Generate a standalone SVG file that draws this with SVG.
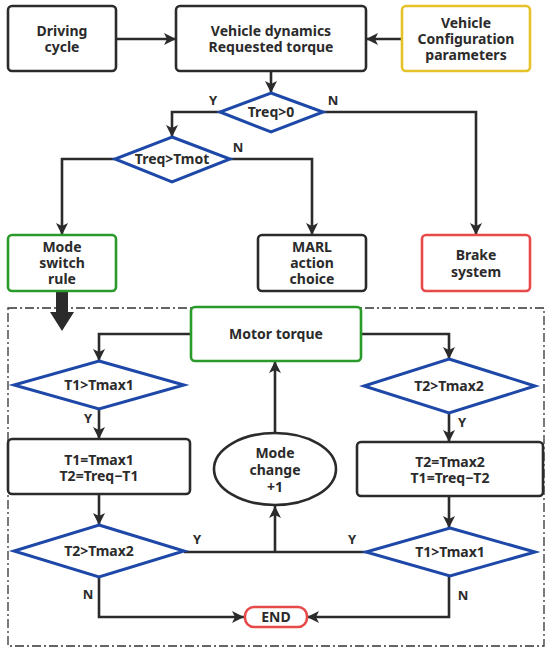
<svg xmlns="http://www.w3.org/2000/svg" width="550" height="654" viewBox="0 0 550 654">
<style>
text{font-family:"Noto Sans","Open Sans","Liberation Sans",sans-serif;font-weight:bold;font-size:14px;fill:#2b2b2b;text-anchor:middle}
.box{fill:#fff;stroke:#2b2b2b;stroke-width:2.6}
.grn{fill:#fff;stroke:#2a9a2a;stroke-width:2.6}
.red{fill:#fff;stroke:#e84a4a;stroke-width:2.6}
.yel{fill:#fff;stroke:#e6c22a;stroke-width:2.6}
.dia{fill:#fff;stroke:#1e48a8;stroke-width:3}
.ln{fill:none;stroke:#2b2b2b;stroke-width:2.6}
.lbl{font-size:13px}
</style>
<defs>
<marker id="ah" markerWidth="12" markerHeight="12" viewBox="0 0 12 12" refX="12" refY="6" orient="auto" markerUnits="userSpaceOnUse">
<path d="M0,0 L12,6 L0,12 L3,6 z" fill="#2b2b2b"/>
</marker>
</defs>
<rect x="0" y="0" width="550" height="654" fill="#fff"/>
<rect x="8" y="308" width="536" height="338" fill="none" stroke="#333" stroke-width="1.3" stroke-dasharray="9 3 2 3"/>
<g id="connectors">
<path class="ln" d="M116,39 H176" marker-end="url(#ah)"/>
<path class="ln" d="M402,39 H366" marker-end="url(#ah)"/>
<path class="ln" d="M271,71 V93" marker-end="url(#ah)"/>
<path class="ln" d="M220,112 H172 V137" marker-end="url(#ah)"/>
<path class="ln" d="M323,112 H476 V235" marker-end="url(#ah)"/>
<path class="ln" d="M115,159 H62 V235" marker-end="url(#ah)"/>
<path class="ln" d="M230,159 H312 V235" marker-end="url(#ah)"/>
<path d="M56,291 H68 V312 H74 L62,331 L50,312 H56 z" fill="#2b2b2b"/>
<path class="ln" d="M191,334 H99 V361" marker-end="url(#ah)"/>
<path class="ln" d="M361,334 H449 V359" marker-end="url(#ah)"/>
<path class="ln" d="M99,409 V439" marker-end="url(#ah)"/>
<path class="ln" d="M449,413 V442" marker-end="url(#ah)"/>
<path class="ln" d="M99,494 V525" marker-end="url(#ah)"/>
<path class="ln" d="M449,496 V528" marker-end="url(#ah)"/>
<path class="ln" d="M184,552 H366"/>
<path class="ln" d="M275,552 V506" marker-end="url(#ah)"/>
<path class="ln" d="M275,433 V361" marker-end="url(#ah)"/>
<path class="ln" d="M99,577 V617 H244" marker-end="url(#ah)"/>
<path class="ln" d="M449,576 V617 H307" marker-end="url(#ah)"/>
<text class="lbl" x="213" y="105">Y</text>
<text class="lbl" x="333" y="105">N</text>
<text class="lbl" x="238" y="152">N</text>
<text class="lbl" x="88" y="423">Y</text>
<text class="lbl" x="462" y="427">Y</text>
<text class="lbl" x="197" y="544">Y</text>
<text class="lbl" x="352" y="544">Y</text>
<text class="lbl" x="88" y="599">N</text>
<text class="lbl" x="463" y="600">N</text>
</g>
<g id="driving-cycle">
<rect class="box" x="8" y="6" width="108" height="65" rx="4"/>
<text x="62" y="36">Driving</text>
<text x="62" y="52">cycle</text>
</g>
<g id="vehicle-dynamics">
<rect class="box" x="176" y="6" width="190" height="65" rx="4"/>
<text x="271" y="36">Vehicle dynamics</text>
<text x="271" y="52">Requested torque</text>
</g>
<g id="vehicle-config">
<rect class="yel" x="402" y="6" width="128" height="65" rx="4"/>
<text x="466" y="28">Vehicle</text>
<text x="466" y="44">Configuration</text>
<text x="466" y="60">parameters</text>
</g>
<g id="treq-gt-0">
<polygon class="dia" points="271,93 323,112 271,132 220,112"/>
<text x="271" y="117">Treq&gt;0</text>
</g>
<g id="treq-gt-tmot">
<polygon class="dia" points="172,137 230,159 172,182 115,159"/>
<text x="172" y="164">Treq&gt;Tmot</text>
</g>
<g id="mode-switch-rule">
<rect class="grn" x="8" y="235" width="108" height="56" rx="4"/>
<text x="62" y="252">Mode</text>
<text x="62" y="268">switch</text>
<text x="62" y="284">rule</text>
</g>
<g id="marl-action-choice">
<rect class="box" x="258" y="235" width="108" height="56" rx="4"/>
<text x="312" y="252">MARL</text>
<text x="312" y="268">action</text>
<text x="312" y="284">choice</text>
</g>
<g id="brake-system">
<rect class="red" x="422" y="235" width="108" height="56" rx="4"/>
<text x="476" y="260">Brake</text>
<text x="476" y="277">system</text>
</g>
<g id="motor-torque">
<rect class="grn" x="191" y="307" width="170" height="54" rx="4"/>
<text x="276" y="339">Motor torque</text>
</g>
<g id="t1-gt-tmax1-left">
<polygon class="dia" points="99,361 184,385 99,409 14,385"/>
<text x="99" y="390">T1&gt;Tmax1</text>
</g>
<g id="t2-gt-tmax2-right">
<polygon class="dia" points="449,359 535,386 449,413 364,386"/>
<text x="449" y="391">T2&gt;Tmax2</text>
</g>
<g id="t1-assign">
<rect class="box" x="8" y="439" width="182" height="55" rx="4"/>
<text x="99" y="465">T1=Tmax1</text>
<text x="99" y="481">T2=Treq−T1</text>
</g>
<g id="t2-assign">
<rect class="box" x="357" y="442" width="186" height="54" rx="4"/>
<text x="450" y="467">T2=Tmax2</text>
<text x="450" y="483">T1=Treq−T2</text>
</g>
<g id="mode-change">
<ellipse cx="275" cy="469" rx="61" ry="36" fill="#fff" stroke="#2b2b2b" stroke-width="2.6"/>
<text x="275" y="458">Mode</text>
<text x="275" y="475">change</text>
<text x="275" y="492">+1</text>
</g>
<g id="t2-gt-tmax2-left">
<polygon class="dia" points="99,525 184,551 99,577 14,551"/>
<text x="99" y="556">T2&gt;Tmax2</text>
</g>
<g id="t1-gt-tmax1-right">
<polygon class="dia" points="450,528 535,552 450,576 366,552"/>
<text x="450" y="557">T1&gt;Tmax1</text>
</g>
<g id="end">
<rect x="245" y="607" width="62" height="20" rx="9" fill="#fff" stroke="#e84a4a" stroke-width="2.6"/>
<text x="276" y="622">END</text>
</g>
</svg>
